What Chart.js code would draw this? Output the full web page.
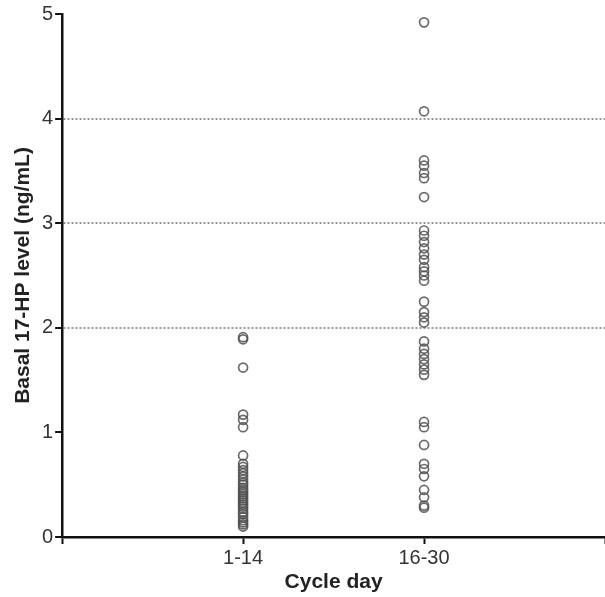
<!DOCTYPE html>
<html>
<head>
<meta charset="utf-8">
<script src="https://cdn.jsdelivr.net/npm/chart.js@4/dist/chart.umd.min.js"></script>
<style>
  body { margin: 0; background: #fff; }
</style>
</head>
<body>
<canvas id="myChart" width="605" height="597"></canvas>
<script>
const categories = ['1-14', '16-30'];
const day1to14 = [
  1.91, 1.89, 1.62, 1.17, 1.12, 1.05, 0.78, 0.70,
  0.67, 0.64, 0.61, 0.58, 0.55, 0.52, 0.50, 0.47, 0.45, 0.43,
  0.41, 0.39, 0.37, 0.35, 0.33, 0.31, 0.29, 0.27, 0.24, 0.22,
  0.19, 0.16, 0.14, 0.12, 0.10
];
const day16to30 = [
  4.92, 4.07, 3.60, 3.55, 3.48, 3.43, 3.25,
  2.93, 2.88, 2.82, 2.76, 2.70, 2.65, 2.58, 2.54, 2.50, 2.45,
  2.25, 2.15, 2.10, 2.05,
  1.87, 1.80, 1.75, 1.70, 1.65, 1.60, 1.55,
  1.10, 1.05, 0.88, 0.70, 0.65, 0.58, 0.45, 0.38, 0.30, 0.28
];
const yTicks = [0, 1, 2, 3, 4, 5];
const dottedLevels = [2, 3, 4];

const points = [day1to14, day16to30].flatMap((vals, i) =>
  vals.map(v => ({ x: i + 1, y: v }))
);

const data = {
  datasets: [{
    label: 'Basal 17-HP',
    data: points,
    pointRadius: 4.5,
    pointBorderWidth: 1.7,
    pointBorderColor: 'rgba(80, 80, 80, 0.85)',
    pointBackgroundColor: 'rgba(0, 0, 0, 0)',
    showLine: false
  }]
};

const tickFont = { family: '"Liberation Sans", Arial, sans-serif', size: 20, lineHeight: 1 };
const titleFont = { family: '"Liberation Sans", Arial, sans-serif', size: 21, weight: 'bold', lineHeight: 1 };

const config = {
  type: 'scatter',
  data: data,
  options: {
    responsive: false,
    animation: false,
    layout: {
      autoPadding: false,
      padding: { top: 14, right: 0, left: 13, bottom: 4 }
    },
    plugins: {
      legend: { display: false },
      tooltip: { enabled: false }
    },
    scales: {
      x: {
        type: 'linear',
        min: 0,
        max: 3,
        afterFit: axis => { axis.paddingRight = 0; axis.paddingLeft = 0; },
        ticks: {
          stepSize: 1,
          color: '#333',
          font: tickFont,
          padding: 4,
          maxRotation: 0,
          callback: v => categories[v - 1] || ''
        },
        grid: {
          drawOnChartArea: false,
          tickColor: '#111',
          tickLength: 7,
          tickWidth: 2
        },
        border: { color: '#111', width: 2.5 },
        title: {
          display: true,
          text: 'Cycle day',
          color: '#222',
          font: titleFont,
          padding: { top: 0, bottom: 0 }
        }
      },
      y: {
        min: 0,
        max: 5,
        afterBuildTicks: axis => { axis.ticks = yTicks.map(v => ({ value: v })); },
        ticks: {
          color: '#333',
          font: tickFont,
          padding: 2
        },
        grid: {
          color: ctx => dottedLevels.includes(ctx.tick.value) ? '#999' : 'rgba(0,0,0,0)',
          lineWidth: 2,
          tickColor: '#111',
          tickLength: 7,
          tickWidth: 2
        },
        border: { color: '#111', width: 2.5, dash: [2, 2] },
        title: {
          display: true,
          text: 'Basal 17-HP level (ng/mL)',
          color: '#222',
          font: titleFont,
          padding: { top: 0, bottom: 6 }
        }
      }
    }
  }
};

const myChart = new Chart(
  document.getElementById('myChart'),
  config
);
</script>
</body>
</html>
